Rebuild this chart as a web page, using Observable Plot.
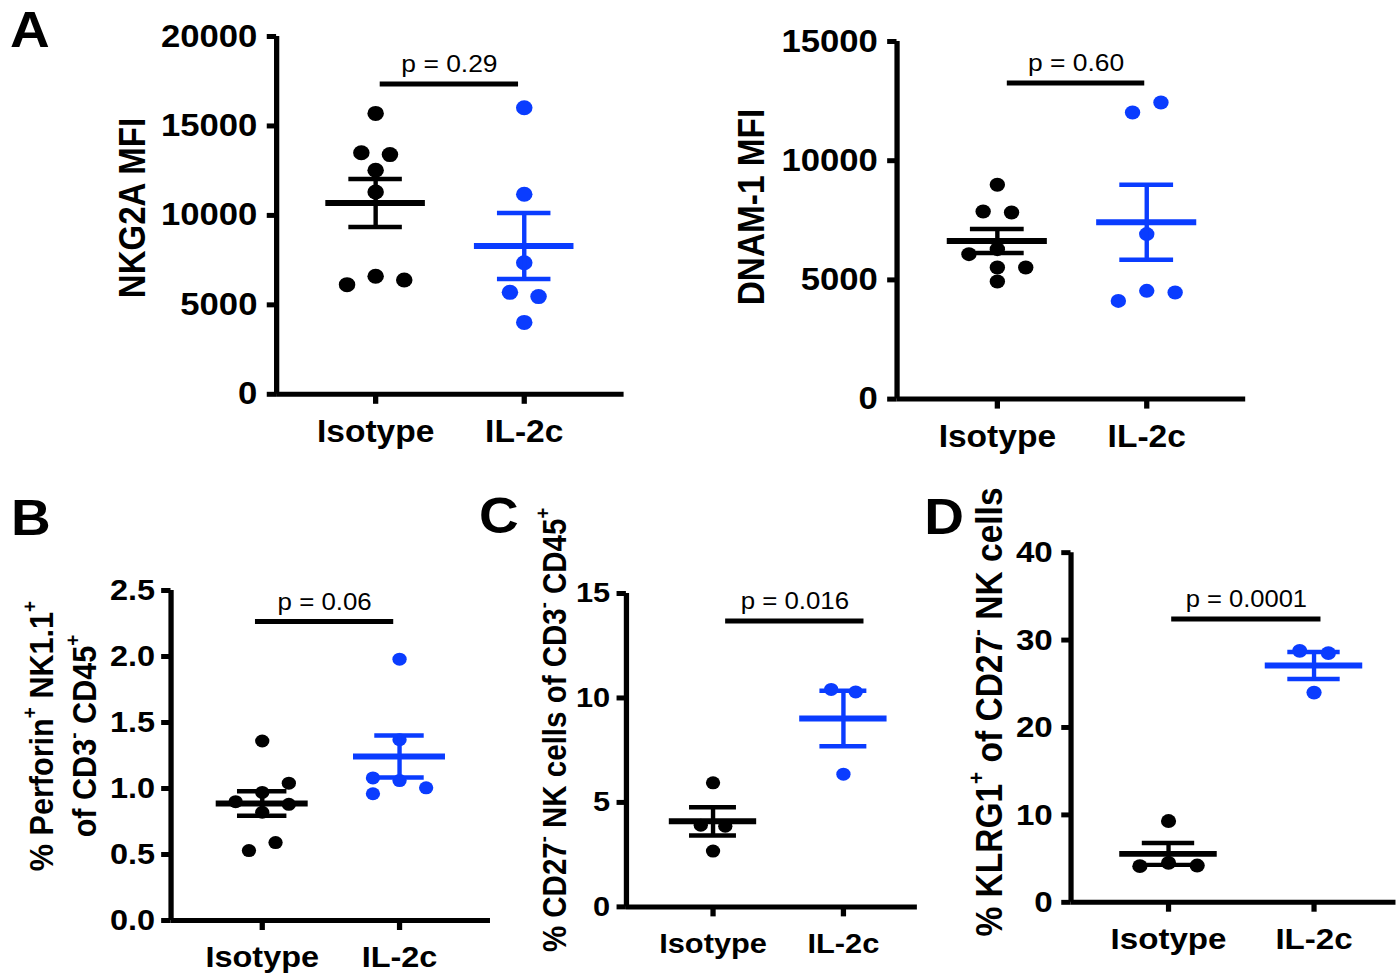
<!DOCTYPE html>
<html>
<head>
<meta charset="utf-8">
<script src="https://cdn.jsdelivr.net/npm/d3@7"></script>
<script src="https://cdn.jsdelivr.net/npm/@observablehq/plot@0.6"></script>
<style>
  html, body { margin: 0; padding: 0; background: #ffffff; overflow: hidden; }
  #chart { position: relative; height: 975px; transform-origin: 0 0; font-family: "Liberation Sans", Arial, sans-serif; color: #000; }
  .pan { position: absolute; }
  .letter { position: absolute; font-weight: bold; font-size: 50px; line-height: 1; }
  .vlab { position: absolute; transform: translate(-50%, -50%) rotate(-90deg); white-space: nowrap; font-weight: bold; line-height: 1; text-align: center; }
  .vlab sup { font-size: 0.62em; vertical-align: 0.8em; line-height: 0; }
</style>
</head>
<body>
<div id="chart"></div>
<script>
// ---------------- data ----------------
const categories = ["Isotype", "IL-2c"];

const nkg2aIsotype = [15700, 13500, 13400, 12520, 11310, 6600, 6390, 6130];
const nkg2aIL2c    = [16020, 11180, 7350, 5700, 5460, 4020];

const dnam1Isotype = [8990, 7870, 7830, 5520, 5520, 6080, 6290, 4930];
const dnam1IL2c    = [12020, 12440, 6920, 4540, 4470, 4120];

const perforinIsotype = [1.36, 0.97, 0.82, 1.04, 0.88, 0.90, 0.53, 0.59];
const perforinIL2c    = [1.98, 1.37, 1.06, 1.005, 1.08, 0.96];

const cd27Isotype = [5.94, 3.91, 3.86, 2.67];
const cd27IL2c    = [10.41, 10.29, 6.35];

const klrg1Isotype = [9.30, 4.51, 4.21, 4.14];
const klrg1IL2c    = [28.77, 28.51, 23.99];

const ticksNKG2A    = [0, 5000, 10000, 15000, 20000];
const ticksDNAM1    = [0, 5000, 10000, 15000];
const ticksPerforin = [0, 0.5, 1.0, 1.5, 2.0, 2.5];
const ticksCD27     = [0, 5, 10, 15];
const ticksKLRG1    = [0, 10, 20, 30, 40];

const pLabels     = ["p = 0.29", "p = 0.60", "p = 0.06", "p = 0.016", "p = 0.0001"];
const pBarLevels  = [17350, 13260, 2.265, 13.68, 32.4];

// ---------------- layout ----------------
const K = 1.1;                // horizontal stretch of the original figure
const PAGE_W = 1396;
const BLACK = "#000000";
const BLUE = "#0a3cff";
const FONT = '"Liberation Sans", Arial, sans-serif';

const chart = document.getElementById("chart");
chart.style.width = (PAGE_W / K) + "px";
chart.style.transform = `scaleX(${K})`;

// GraphPad-like scatter arrangement
function swarm(values, pxPerUnit, T) {
  const n = values.length;
  const order = d3.range(n).sort((a, b) => values[b] - values[a]);
  const comps = [];
  let cur = [order[0]];
  for (let k = 1; k < n; k++) {
    const a = order[k - 1], b = order[k];
    if ((values[a] - values[b]) * pxPerUnit < T) cur.push(b);
    else { comps.push(cur); cur = [b]; }
  }
  comps.push(cur);
  const col = new Array(n).fill(0);
  for (const c of comps) {
    const members = c.slice().sort((a, b) => a - b);
    if (members.length === 2) {
      col[members[0]] = -0.5; col[members[1]] = 0.5;
    } else if (members.length > 2) {
      const placed = [];
      for (const i of members) {
        for (const cand of [0, 1, -1, 2, -2]) {
          const hit = placed.some(j => col[j] === cand && Math.abs(values[i] - values[j]) * pxPerUnit < T);
          if (!hit) { col[i] = cand; break; }
        }
        placed.push(i);
      }
    }
  }
  return col;
}

function semStats(values) {
  const m = d3.mean(values);
  const s = d3.deviation(values) / Math.sqrt(values.length);
  return { m, lo: m - s, hi: m + s };
}

function drawPanel(L, groups, ticks, fmt, pLabel, pLevel) {
  const ax = L.axisX / K, xe = L.xEnd / K, c0 = L.cat0 / K, c1 = L.cat1 / K;
  const gap = c1 - c0;
  const mL = 150, mR = 0, mT = 70, mB = 75;
  const frameW = xe - ax, frameH = L.yBot - L.yTop;
  const width = mL + frameW + mR, height = mT + frameH + mB;
  const pxPerUnit = frameH / L.yMax;
  const colUnits = (L.col / K) / gap;
  const colors = [BLACK, BLUE];
  const x0 = (ax - c0) / gap;

  const groupMarks = [];
  groups.forEach((vals, g) => {
    const cols = swarm(vals, pxPerUnit, 13.8);
    const pts = vals.map((v, i) => ({ x: g + cols[i] * colUnits, v }));
    const s = semStats(vals);
    groupMarks.push(
      Plot.dot(pts, { x: "x", y: "v", r: L.r, fill: colors[g], stroke: "none" }),
      Plot.ruleY([s], { y: "m", x1: () => g - 0.335, x2: () => g + 0.335, stroke: colors[g], strokeWidth: 6 }),
      Plot.ruleY([s], { y: "hi", x1: () => g - 0.18, x2: () => g + 0.18, stroke: colors[g], strokeWidth: 4.5 }),
      Plot.ruleY([s], { y: "lo", x1: () => g - 0.18, x2: () => g + 0.18, stroke: colors[g], strokeWidth: 4.5 }),
      Plot.ruleX([s], { x: () => g, y1: "lo", y2: "hi", stroke: colors[g], strokeWidth: 4 })
    );
  });

  const svg = Plot.plot({
    width, height,
    marginLeft: mL, marginRight: mR, marginTop: mT, marginBottom: mB,
    style: { fontFamily: FONT, fontWeight: "bold", color: "black", background: "transparent", overflow: "visible" },
    x: { type: "linear", domain: [x0, (xe - c0) / gap] },
    y: { type: "linear", domain: [0, L.yMax] },
    marks: [
      Plot.ruleY([0], { stroke: BLACK, strokeWidth: 5 }),
      Plot.ruleX([x0], { y1: () => 0, y2: () => L.yMax, stroke: BLACK, strokeWidth: 4.8 }),
      Plot.axisY({ anchor: "left", ticks, tickFormat: fmt, tickSize: 8.5, tickPadding: L.tickPad,
                   strokeWidth: 5, fontSize: L.tickFS, fontWeight: "bold", label: null }),
      Plot.axisX({ anchor: "bottom", ticks: [0, 1], tickFormat: i => categories[i], tickSize: 10, tickPadding: 16,
                   strokeWidth: 4.8, fontSize: L.catFS, fontWeight: "bold", label: null }),
      ...groupMarks,
      Plot.ruleY([pLevel], { x1: () => L.bar[0], x2: () => L.bar[1], stroke: BLACK, strokeWidth: 5 }),
      Plot.text([pLabel], { x: () => (L.bar[0] + L.bar[1]) / 2, y: () => pLevel, text: d => d, dy: -12,
                            lineAnchor: "bottom", fontSize: L.pFS, fontWeight: "normal", fill: BLACK })
    ]
  });
  const wrap = document.createElement("div");
  wrap.className = "pan";
  wrap.style.left = (ax - mL) + "px";
  wrap.style.top = (L.yTop - mT) + "px";
  wrap.appendChild(svg);
  chart.appendChild(wrap);
}

function letter(t, pageLeft, capTop) {
  const d = document.createElement("div");
  d.className = "letter";
  d.textContent = t;
  d.style.left = (pageLeft / K) + "px";
  d.style.top = (capTop - 0.1305 * 50) + "px";
  chart.appendChild(d);
}

function vlabel(html, pageCx, cy, size, lh) {
  const d = document.createElement("div");
  d.className = "vlab";
  d.innerHTML = html;
  d.style.left = (pageCx / K) + "px";
  d.style.top = cy + "px";
  d.style.fontSize = size + "px";
  if (lh) d.style.lineHeight = lh;
  chart.appendChild(d);
}

// panel geometry (page pixels)
const layoutA1 = { axisX: 276, yTop: 35.5, yBot: 393.3, xEnd: 623.5, cat0: 375, cat1: 523.6, yMax: 20000,
                   r: 7.5, col: 28.6, tickFS: 31.5, catFS: 30.5, tickPad: 9, pFS: 24, bar: [0.031, 0.962] };
const layoutA2 = { axisX: 896.3, yTop: 40.7, yBot: 398.3, xEnd: 1245, cat0: 996.6, cat1: 1146, yMax: 15000,
                   r: 7, col: 28.4, tickFS: 31.5, catFS: 30.5, tickPad: 9, pFS: 24, bar: [0.067, 0.987] };
const layoutB  = { axisX: 170.5, yTop: 590, yBot: 920, xEnd: 490, cat0: 261.7, cat1: 399, yMax: 2.5,
                   r: 6.5, col: 26.6, tickFS: 29.5, catFS: 29.5, tickPad: 6, pFS: 23.5, bar: [-0.049, 0.958] };
const layoutC  = { axisX: 625.7, yTop: 593.3, yBot: 906.7, xEnd: 916.7, cat0: 712.3, cat1: 842.7, yMax: 15,
                   r: 6.5, col: 24.5, tickFS: 28, catFS: 28, tickPad: 6.3, pFS: 23.5, bar: [0.097, 1.158] };
const layoutD  = { axisX: 1073, yTop: 553.3, yBot: 907.3, xEnd: 1402, cat0: 1171.7, cat1: 1319, yMax: 40,
                   r: 7, col: 29, tickFS: 30.5, catFS: 30.5, tickPad: 8.3, pFS: 23.5, bar: [0.022, 1.048] };

const fmtInt = d3.format("d");
const fmt1 = d3.format(".1f");

drawPanel(layoutA1, [nkg2aIsotype, nkg2aIL2c], ticksNKG2A, fmtInt, pLabels[0], pBarLevels[0]);
drawPanel(layoutA2, [dnam1Isotype, dnam1IL2c], ticksDNAM1, fmtInt, pLabels[1], pBarLevels[1]);
drawPanel(layoutB, [perforinIsotype, perforinIL2c], ticksPerforin, fmt1, pLabels[2], pBarLevels[2]);
drawPanel(layoutC, [cd27Isotype, cd27IL2c], ticksCD27, fmtInt, pLabels[3], pBarLevels[3]);
drawPanel(layoutD, [klrg1Isotype, klrg1IL2c], ticksKLRG1, fmtInt, pLabels[4], pBarLevels[4]);

letter("A", 10, 12);
letter("B", 11, 500);
letter("C", 479, 498);
letter("D", 924.3, 499);

vlabel("NKG2A MFI", 131.8, 207.5, 33);
vlabel("DNAM-1 MFI", 751, 206.7, 33.4);
vlabel("% Perforin<sup>+</sup> NK1.1<sup>+</sup><br>of CD3<sup>-</sup> CD45<sup>+</sup>", 62.9, 735.8, 30.6, 1.26);
vlabel("% CD27<sup>-</sup> NK cells of CD3<sup>-</sup> CD45<sup>+</sup>", 554, 730, 29.5);
vlabel("% KLRG1<sup>+</sup> of CD27<sup>-</sup> NK cells", 990, 712, 33.5);
</script>
</body>
</html>
